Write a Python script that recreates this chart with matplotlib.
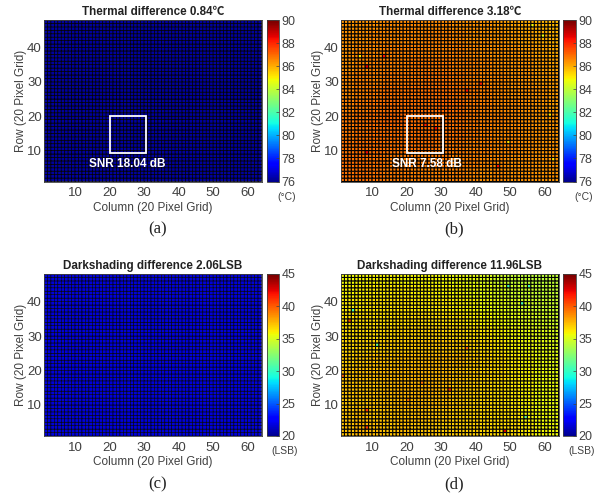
import numpy as np
import matplotlib
matplotlib.use("Agg")
import matplotlib.pyplot as plt
from matplotlib.patches import Rectangle

plt.rcParams['font.family'] = ['Liberation Sans', 'Noto Sans CJK SC', 'DejaVu Sans']

W, H = 603, 495
NCOL, NROW = 63, 47

# flat panels
thermal_low = 76.4
dark_low = 22.0

# block estimates, 16 blocks across, 12 blocks up (first line = bottom of the plot)
thermal_high_blocks = [
    [87.0, 87.1, 87.0, 86.9, 86.9, 86.8, 86.8, 86.8, 86.8, 86.7, 86.6, 86.7, 86.6, 86.6, 86.5, 86.5],
    [87.1, 87.1, 87.0, 86.9, 86.9, 86.9, 86.9, 86.9, 86.8, 86.8, 86.7, 86.7, 86.6, 86.6, 86.5, 86.5],
    [87.0, 87.1, 87.1, 87.0, 87.0, 87.0, 87.0, 86.9, 86.9, 86.8, 86.8, 86.7, 86.7, 86.6, 86.5, 86.5],
    [86.9, 87.0, 87.1, 87.1, 87.1, 87.1, 87.1, 87.0, 87.0, 86.9, 86.8, 86.7, 86.7, 86.6, 86.6, 86.5],
    [86.9, 87.0, 87.1, 87.2, 87.2, 87.1, 87.1, 87.1, 87.0, 86.9, 86.8, 86.8, 86.7, 86.6, 86.5, 86.5],
    [86.8, 86.9, 87.0, 87.1, 87.1, 87.1, 87.1, 87.2, 87.1, 86.9, 86.8, 86.7, 86.7, 86.6, 86.5, 86.4],
    [86.7, 86.8, 86.9, 87.0, 87.0, 87.0, 87.1, 87.1, 87.0, 86.9, 86.8, 86.7, 86.6, 86.6, 86.5, 86.4],
    [86.7, 86.8, 86.8, 86.9, 86.9, 86.9, 87.0, 87.0, 86.9, 86.8, 86.7, 86.7, 86.6, 86.5, 86.4, 86.4],
    [86.6, 86.7, 86.8, 86.8, 86.8, 86.9, 86.9, 86.9, 86.8, 86.8, 86.7, 86.6, 86.5, 86.5, 86.4, 86.3],
    [86.6, 86.7, 86.7, 86.8, 86.8, 86.8, 86.8, 86.8, 86.8, 86.7, 86.6, 86.6, 86.5, 86.4, 86.3, 86.2],
    [86.6, 86.6, 86.7, 86.7, 86.7, 86.7, 86.8, 86.8, 86.7, 86.6, 86.6, 86.5, 86.4, 86.3, 86.2, 86.1],
    [86.5, 86.6, 86.6, 86.7, 86.7, 86.7, 86.7, 86.7, 86.6, 86.6, 86.5, 86.4, 86.3, 86.2, 86.1, 86.0],
]
dark_high_blocks = [
    [37.6, 37.9, 37.7, 37.5, 37.7, 37.5, 37.5, 37.3, 37.3, 37.2, 37.0, 36.9, 36.9, 36.5, 36.2, 36.1],
    [37.5, 37.7, 37.5, 37.6, 37.7, 37.7, 37.6, 37.5, 37.3, 37.2, 37.0, 36.9, 36.7, 36.3, 36.1, 35.9],
    [37.4, 37.5, 37.6, 37.7, 37.9, 37.9, 37.8, 37.7, 37.4, 37.2, 37.0, 36.8, 36.6, 36.3, 36.0, 35.9],
    [37.5, 37.5, 37.6, 37.8, 38.0, 37.9, 38.0, 37.8, 37.5, 37.3, 37.0, 36.8, 36.6, 36.3, 36.0, 35.9],
    [37.5, 37.6, 37.7, 37.8, 37.9, 37.9, 37.9, 37.9, 37.6, 37.4, 37.1, 36.9, 36.6, 36.3, 36.0, 35.8],
    [37.2, 37.4, 37.6, 37.6, 37.7, 37.7, 37.8, 37.8, 37.8, 37.4, 37.1, 36.8, 36.5, 36.2, 35.9, 35.7],
    [37.0, 37.1, 37.1, 37.3, 37.3, 37.4, 37.5, 37.5, 37.4, 37.1, 36.9, 36.6, 36.3, 36.0, 35.8, 35.6],
    [36.8, 36.9, 36.9, 37.0, 37.1, 37.1, 37.2, 37.1, 37.0, 36.8, 36.6, 36.3, 36.1, 35.8, 35.6, 35.4],
    [36.7, 36.8, 36.8, 36.8, 36.9, 36.9, 36.8, 36.8, 36.7, 36.5, 36.3, 36.1, 35.8, 35.5, 35.3, 35.1],
    [36.5, 36.6, 36.7, 36.7, 36.7, 36.6, 36.6, 36.6, 36.4, 36.3, 36.0, 35.8, 35.5, 35.2, 35.0, 34.9],
    [36.3, 36.4, 36.5, 36.5, 36.5, 36.4, 36.4, 36.3, 36.2, 36.0, 35.8, 35.5, 35.1, 34.9, 34.7, 34.7],
    [36.1, 36.2, 36.3, 36.3, 36.2, 36.2, 36.2, 36.1, 36.0, 35.8, 35.5, 35.1, 34.8, 34.6, 34.5, 34.6],
]

# single cells that stand out in the picture: column, row, value
thermal_spots = [(8, 34, 88.6), (13, 37, 88.4), (8, 9, 88.6), (28, 16, 88.5), (25, 17, 88.3),
                 (37, 27, 88.4), (41, 29, 88.3), (46, 5, 88.4), (59, 43, 84.9), (56, 46, 85.0),
                 (6, 37, 85.2), (62, 7, 85.4), (61, 20, 85.3), (49, 12, 85.3)]
dark_spots = [(3, 34, 40.5), (48, 2, 43.0), (8, 3, 41.0), (8, 8, 41.0), (32, 14, 41.0),
              (37, 26, 40.0), (1, 18, 40.0), (55, 44, 31.0), (49, 44, 31.0), (53, 39, 31.0),
              (11, 27, 32.0), (4, 37, 31.0), (54, 6, 32.0), (20, 11, 39.5), (24, 16, 39.5)]

titles = ["Thermal difference 0.84℃", "Thermal difference 3.18℃",
          "Darkshading difference 2.06LSB", "Darkshading difference 11.96LSB"]
captions = ["(a)", "(b)", "(c)", "(d)"]
units = ["(°C)", "(°C)", "(LSB)", "(LSB)"]
snr_labels = ["SNR 18.04 dB", "SNR 7.58 dB", None, None]
x_ticks = [10, 20, 30, 40, 50, 60]
y_ticks = [10, 20, 30, 40]
thermal_range = (76, 90)
dark_range = (20, 45)
thermal_cb_ticks = [76, 78, 80, 82, 84, 86, 88, 90]
dark_cb_ticks = [20, 25, 30, 35, 40, 45]


def grid_from_blocks(blocks, spots):
    z = np.repeat(np.repeat(np.array(blocks), 4, axis=0), 4, axis=1)[:NROW, :NCOL]
    for c, r, v in spots:
        z[r - 1, c - 1] = v
    return z


panels = [
    np.full((NROW, NCOL), thermal_low),
    grid_from_blocks(thermal_high_blocks, thermal_spots),
    np.full((NROW, NCOL), dark_low),
    grid_from_blocks(dark_high_blocks, dark_spots),
]
ranges = [thermal_range, thermal_range, dark_range, dark_range]
cb_ticks = [thermal_cb_ticks, thermal_cb_ticks, dark_cb_ticks, dark_cb_ticks]
line_w = [0.5, 0.75, 0.4, 0.75]

# pixel boxes: left, right, top, bottom
boxes = [(44, 261.5, 20, 181.5), (341, 558.5, 20, 181.5), (44, 261.5, 274, 436), (341, 558.5, 274, 436)]
cb_x = [(266.5, 279), (563, 575.5), (266.5, 279), (563, 575.5)]
unit_x = [287, 584, 285, 582]
caption_x = [158, 454, 158, 454]
gray = "#404040"

fig = plt.figure(figsize=(W / 100, H / 100), dpi=100)
xs = np.arange(1, NCOL + 2)
ys = np.arange(1, NROW + 2)

for i in range(4):
    l, r, t, b = boxes[i]
    ax = fig.add_axes([l / W, 1 - b / H, (r - l) / W, (b - t) / H])
    m = ax.pcolormesh(xs, ys, panels[i], cmap="jet", vmin=ranges[i][0], vmax=ranges[i][1],
                      edgecolors="black", linewidth=line_w[i], antialiased=True, snap=False)
    ax.set_xlim(1, 64)
    ax.set_ylim(1, 48)
    ax.set_xticks(x_ticks)
    ax.set_yticks(y_ticks)
    ax.tick_params(length=0, labelsize=9.5, labelcolor=gray)
    ax.tick_params(axis="x", pad=4)
    ax.tick_params(axis="y", pad=1.5)
    ax.set_xlabel("Column (20 Pixel Grid)", fontsize=8.5, color=gray, labelpad=2)
    ax.set_ylabel("Row (20 Pixel Grid)", fontsize=8.5, color=gray, labelpad=0)
    ax.set_title(titles[i], fontsize=8.4, fontweight="bold", color="#222222", pad=3.5)
    for s in ax.spines.values():
        s.set_color(gray)
        s.set_linewidth(0.6)

    if snr_labels[i]:
        ax.add_patch(Rectangle((20, 9.4), 10.6, 10.7, fill=False, edgecolor="white", linewidth=1.3, zorder=5))
        ax.text(25 if i == 0 else 25.9, 6.1, snr_labels[i], color="white", fontsize=8.5, fontweight="bold",
                ha="center", va="center", zorder=5)

    cax = fig.add_axes([cb_x[i][0] / W, 1 - b / H, (cb_x[i][1] - cb_x[i][0]) / W, (b - t) / H])
    cb = fig.colorbar(m, cax=cax, ticks=cb_ticks[i])
    cb.solids.set_edgecolor("face")
    cb.ax.tick_params(direction="in", length=2, width=0.5, color=gray, labelsize=9, labelcolor=gray, pad=2)
    cb.outline.set_edgecolor(gray)
    cb.outline.set_linewidth(0.6)

    fig.text(unit_x[i] / W, 1 - (b + 15.5) / H, units[i], fontsize=7.5, color=gray, ha="center", va="center")
    fig.text(caption_x[i] / W, 1 - (b + 48) / H, captions[i], family="Liberation Serif", fontsize=12,
             color="#222222", ha="center", va="center")

fig.savefig("out.png", dpi=100)
